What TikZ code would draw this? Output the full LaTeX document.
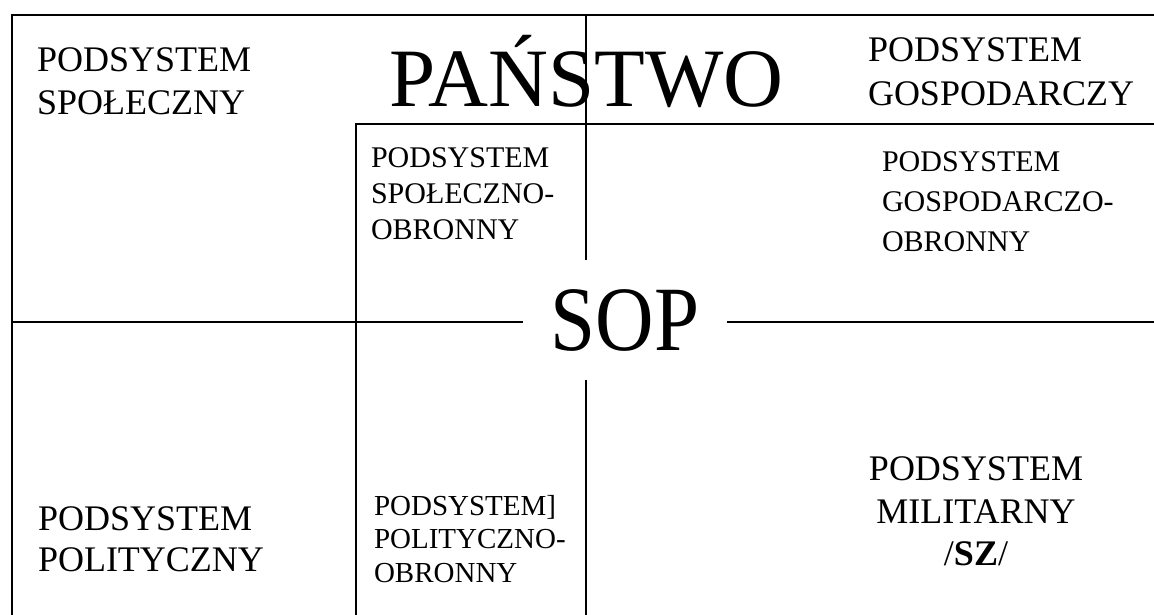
\documentclass[tikz,border=0pt]{standalone}
\usepackage{fontspec}
\usepackage{graphicx}
\setmainfont{Liberation Serif}
\usetikzlibrary{positioning}

\begin{document}
\begin{tikzpicture}[x=1pt, y=-1pt,
  line width=1.8pt,
  sys/.style={anchor=north west, inner sep=0pt, outer sep=0pt, align=left},
  big/.style={font=\fontsize{36}{43}\selectfont},
  small/.style={font=\fontsize{30}{36}\selectfont},
  title/.style={inner sep=0pt, font=\fontsize{83}{90}\selectfont}]
\useasboundingbox (0,0) rectangle (1154,615);

\coordinate (tl) at (12,15);
\coordinate (tr) at (1154,15);
\coordinate (bl) at (12,615);
\coordinate (vtop) at (586,15);
\coordinate (vbot) at (586,615);
\coordinate (itl) at (356,124);
\coordinate (itr) at (1154,124);
\coordinate (ibl) at (356,615);
\coordinate (hl) at (12,322);
\coordinate (hr) at (1154,322);

\node[title, anchor=base west] (panstwo) at (389,107) {PAŃSTWO};
\node[inner xsep=27pt, inner ysep=29pt, text height=61pt, text depth=0pt,
  font=\fontsize{92}{100}\selectfont] (sop) at (625,320) {\scalebox{0.88}[1]{SOP}};

\node[sys, big] (spol) at (37,48) {PODSYSTEM\\SPOŁECZNY};
\node[sys, big, font=\fontsize{36}{44}\selectfont] (gosp) at (868,38) {PODSYSTEM\\GOSPODARCZY};
\node[sys, small] (spolob) at (371,148) {PODSYSTEM\\SPOŁECZNO-\\OBRONNY};
\node[sys, small, font=\fontsize{30}{40}\selectfont] (gospob) at (882,152) {PODSYSTEM\\GOSPODARCZO-\\OBRONNY};
\node[sys, big, font=\fontsize{36}{41}\selectfont] (polit) at (38,507) {PODSYSTEM\\POLITYCZNY};
\node[sys, font=\fontsize{29}{33.5}\selectfont] (politob) at (374,495) {PODSYSTEM]\\POLITYCZNO-\\OBRONNY};
\node[sys, big, anchor=north, align=center, font=\fontsize{36}{42.5}\selectfont] (milit) at (976,457) {PODSYSTEM\\MILITARNY\\/\textbf{SZ}/};

\draw (bl) -- (tl) -- (tr);
\draw (itr) -- (itl) -- (ibl);
\draw (vtop) -- (vtop |- sop.north);
\draw (vbot |- sop.south) -- (vbot);
\draw (hl) -- (hl -| sop.west);
\draw (hr -| sop.east) -- (hr);
\end{tikzpicture}
\end{document}
